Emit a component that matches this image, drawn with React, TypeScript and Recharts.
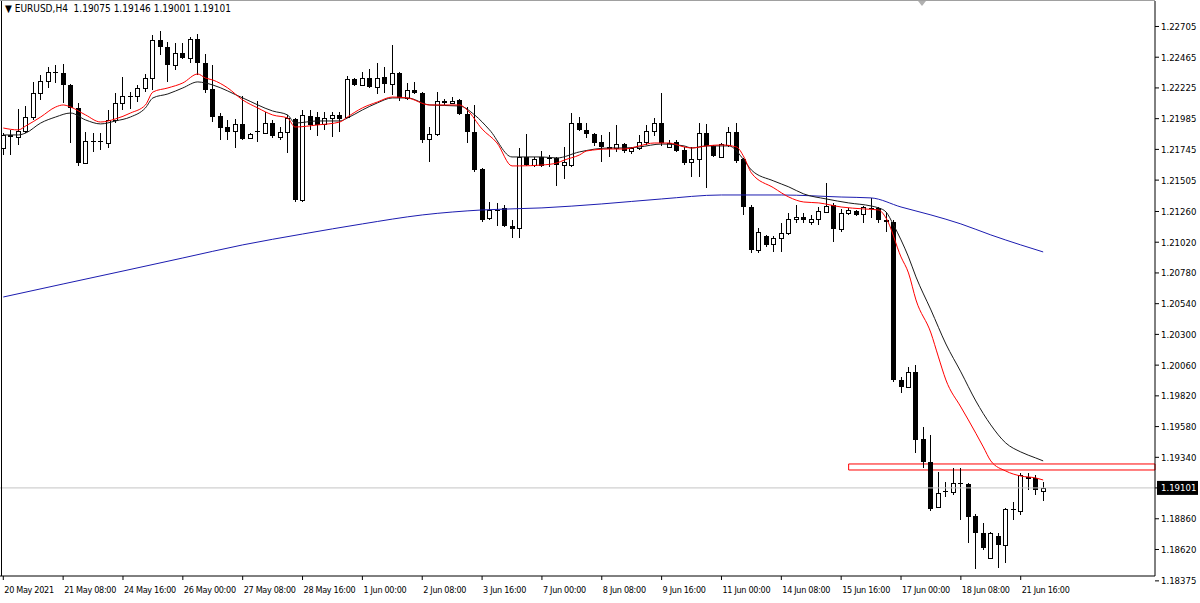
import React from 'react';
import { ComposedChart, Bar, Line, XAxis, YAxis, ReferenceLine, ReferenceArea } from 'recharts';

// EURUSD H4 candles (bar 0 = 20 May 2021 00:00)
const opens = [
  1.21756, 1.21858, 1.21842, 1.21889, 1.21998, 1.22186, 1.22279, 1.22350, 1.22342, 1.22248,
  1.22069, 1.21639, 1.21811, 1.21811, 1.21795, 1.21975, 1.22108, 1.22162, 1.22162, 1.22225,
  1.22303, 1.22600, 1.22545, 1.22404, 1.22498, 1.22459, 1.22607, 1.22420, 1.22217, 1.22006,
  1.21920, 1.21889, 1.21944, 1.21834, 1.21889, 1.21873, 1.21951, 1.21842, 1.21881, 1.21983,
  1.21350, 1.22006, 1.21998, 1.21944, 1.21990, 1.22014, 1.21998, 1.22295, 1.22248, 1.22303,
  1.22233, 1.22311, 1.22256, 1.22342, 1.22147, 1.22209, 1.22186, 1.21826, 1.21865, 1.22123,
  1.22108, 1.22131, 1.22022, 1.21881, 1.21592, 1.21209, 1.21272, 1.21288, 1.21147, 1.21131,
  1.21686, 1.21623, 1.21686, 1.21678, 1.21678, 1.21623, 1.21623, 1.21951, 1.21897, 1.21865,
  1.21803, 1.21756, 1.21756, 1.21787, 1.21733, 1.21756, 1.21803, 1.21889, 1.21951, 1.21764,
  1.21803, 1.21740, 1.21647, 1.21670, 1.21873, 1.21772, 1.21686, 1.21780, 1.21881, 1.21670,
  1.21295, 1.20959, 1.21069, 1.21006, 1.21053, 1.21092, 1.21202, 1.21217, 1.21178, 1.21202,
  1.21256, 1.21311, 1.21124, 1.21248, 1.21264, 1.21241, 1.21288, 1.21288, 1.21194, 1.21178,
  1.19944, 1.19890, 1.20007, 1.19483, 1.19304, 1.18952, 1.19077, 1.19069, 1.19140, 1.19132,
  1.18882, 1.18749, 1.18554, 1.18726, 1.18656, 1.18937, 1.18921, 1.19187, 1.19179, 1.19075,
];
const highs = [
  1.21873, 1.21897, 1.22061, 1.22084, 1.22272, 1.22326, 1.22389, 1.22404, 1.22412, 1.22256,
  1.22108, 1.21881, 1.21873, 1.21873, 1.22053, 1.22186, 1.22311, 1.22193, 1.22248, 1.22334,
  1.22639, 1.22670, 1.22584, 1.22576, 1.22576, 1.22623, 1.22646, 1.22490, 1.22404, 1.22029,
  1.21975, 1.21983, 1.22162, 1.21873, 1.22123, 1.22037, 1.21975, 1.21920, 1.22014, 1.21990,
  1.22053, 1.22053, 1.22037, 1.22037, 1.22037, 1.22037, 1.22318, 1.22303, 1.22350, 1.22373,
  1.22420, 1.22389, 1.22561, 1.22350, 1.22264, 1.22272, 1.22193, 1.21920, 1.22193, 1.22139,
  1.22154, 1.22139, 1.22076, 1.22092, 1.21600, 1.21334, 1.21327, 1.21311, 1.21194, 1.21756,
  1.21865, 1.21686, 1.21733, 1.21701, 1.21686, 1.21764, 1.22029, 1.21998, 1.21951, 1.21873,
  1.21858, 1.21881, 1.21936, 1.21795, 1.21764, 1.21858, 1.21936, 1.21990, 1.22186, 1.21819,
  1.21819, 1.21764, 1.21764, 1.21951, 1.21944, 1.21780, 1.21795, 1.21920, 1.21951, 1.21678,
  1.21311, 1.21131, 1.21077, 1.21069, 1.21170, 1.21248, 1.21311, 1.21248, 1.21233, 1.21295,
  1.21483, 1.21327, 1.21280, 1.21288, 1.21272, 1.21303, 1.21366, 1.21295, 1.21256, 1.21194,
  1.19968, 1.20046, 1.20061, 1.19577, 1.19515, 1.19226, 1.19148, 1.19257, 1.19257, 1.19140,
  1.18898, 1.18827, 1.18757, 1.18749, 1.18945, 1.18991, 1.19218, 1.19218, 1.19202, 1.19146,
];
const lows = [
  1.21701, 1.21701, 1.21780, 1.21873, 1.21975, 1.22131, 1.22225, 1.22264, 1.22108, 1.21795,
  1.21616, 1.21631, 1.21725, 1.21740, 1.21756, 1.21951, 1.22053, 1.22061, 1.22115, 1.22193,
  1.22209, 1.22482, 1.22272, 1.22365, 1.22451, 1.22420, 1.22326, 1.22186, 1.21959, 1.21819,
  1.21819, 1.21756, 1.21819, 1.21826, 1.21803, 1.21865, 1.21834, 1.21819, 1.21717, 1.21334,
  1.21334, 1.21897, 1.21850, 1.21897, 1.21842, 1.21881, 1.21990, 1.22240, 1.22240, 1.22225,
  1.22178, 1.22186, 1.22170, 1.22123, 1.22131, 1.22178, 1.21795, 1.21647, 1.21850, 1.22092,
  1.22100, 1.22014, 1.21795, 1.21569, 1.21178, 1.21194, 1.21147, 1.21139, 1.21053, 1.21053,
  1.21616, 1.21608, 1.21608, 1.21608, 1.21459, 1.21514, 1.21608, 1.21889, 1.21834, 1.21772,
  1.21647, 1.21686, 1.21725, 1.21717, 1.21709, 1.21740, 1.21780, 1.21850, 1.21772, 1.21756,
  1.21725, 1.21623, 1.21530, 1.21530, 1.21444, 1.21686, 1.21678, 1.21764, 1.21639, 1.21233,
  1.20936, 1.20936, 1.20983, 1.20944, 1.20944, 1.21077, 1.21170, 1.21170, 1.21155, 1.21155,
  1.21248, 1.21022, 1.21100, 1.21233, 1.21225, 1.21170, 1.21209, 1.21170, 1.21100, 1.19929,
  1.19843, 1.19882, 1.19374, 1.19257, 1.18921, 1.18945, 1.19030, 1.19046, 1.18851, 1.18671,
  1.18468, 1.18616, 1.18546, 1.18476, 1.18515, 1.18851, 1.18890, 1.19085, 1.19046, 1.19001,
];
const closes = [
  1.21858, 1.21842, 1.21889, 1.21998, 1.22186, 1.22279, 1.22350, 1.22342, 1.22248, 1.22069,
  1.21639, 1.21811, 1.21803, 1.21803, 1.21975, 1.22108, 1.22162, 1.22154, 1.22225, 1.22303,
  1.22600, 1.22545, 1.22404, 1.22498, 1.22459, 1.22607, 1.22420, 1.22209, 1.21998, 1.21912,
  1.21881, 1.21944, 1.21826, 1.21865, 1.21881, 1.21951, 1.21850, 1.21881, 1.21990, 1.21350,
  1.22014, 1.21936, 1.21936, 1.21990, 1.22014, 1.21983, 1.22295, 1.22248, 1.22303, 1.22233,
  1.22303, 1.22256, 1.22342, 1.22147, 1.22209, 1.22186, 1.21819, 1.21865, 1.22123, 1.22108,
  1.22123, 1.22022, 1.21881, 1.21584, 1.21194, 1.21272, 1.21264, 1.21147, 1.21124, 1.21686,
  1.21623, 1.21670, 1.21616, 1.21670, 1.21623, 1.21647, 1.21951, 1.21897, 1.21865, 1.21795,
  1.21764, 1.21764, 1.21787, 1.21733, 1.21756, 1.21803, 1.21889, 1.21951, 1.21795, 1.21795,
  1.21733, 1.21639, 1.21670, 1.21873, 1.21772, 1.21694, 1.21787, 1.21881, 1.21655, 1.21295,
  1.20959, 1.21100, 1.20999, 1.21053, 1.21092, 1.21202, 1.21217, 1.21194, 1.21202, 1.21264,
  1.21303, 1.21124, 1.21248, 1.21272, 1.21233, 1.21295, 1.21280, 1.21194, 1.21178, 1.19944,
  1.19890, 1.20007, 1.19476, 1.19304, 1.18937, 1.19062, 1.19069, 1.19140, 1.19132, 1.18874,
  1.18749, 1.18632, 1.18749, 1.18656, 1.18937, 1.18929, 1.19202, 1.19171, 1.19085, 1.19101,
];

// moving averages, [bar, price] read at points along each line
const redMa: [number, number][] = [
  [0, 1.21912], [2, 1.21897], [3, 1.21928], [5, 1.21998], [7, 1.22076], [8, 1.22092], [9, 1.22076],
  [11, 1.22014], [13, 1.21959], [15, 1.21983], [17, 1.22029], [19, 1.22092], [20, 1.22193],
  [22, 1.22225], [24, 1.22264], [26, 1.22334], [27, 1.22303], [28, 1.22287], [30, 1.22225],
  [32, 1.22131], [34, 1.22069], [36, 1.22014], [38, 1.21990], [39, 1.21920], [42, 1.21936],
  [45, 1.21959], [46, 1.21998], [48, 1.22069], [50, 1.22115], [52, 1.22154], [54, 1.22147],
  [57, 1.22092], [59, 1.22092], [61, 1.22092], [62, 1.22053], [64, 1.21904], [66, 1.21795],
  [68, 1.21616], [69, 1.21616], [72, 1.21623], [74, 1.21639], [75, 1.21662], [77, 1.21701],
  [78, 1.21733], [81, 1.21748], [83, 1.21748], [85, 1.21772], [87, 1.21795], [89, 1.21795],
  [91, 1.21764], [92, 1.21756], [94, 1.21772], [96, 1.21780], [98, 1.21764], [99, 1.21686],
  [100, 1.21561], [103, 1.21444], [105, 1.21373], [107, 1.21334], [109, 1.21327], [112, 1.21295],
  [115, 1.21280], [117, 1.21272], [118, 1.21209], [120, 1.20905], [121, 1.20780], [122, 1.20569],
  [124, 1.20311], [125, 1.20124], [126, 1.19944], [128, 1.19733], [129, 1.19632], [131, 1.19421],
  [132, 1.19312], [134, 1.19233], [136, 1.19194], [138, 1.19179], [139, 1.19163],
];
const blackMa: [number, number][] = [
  [0, 1.21858], [2, 1.21858], [3, 1.21873], [5, 1.21951], [7, 1.21998], [9, 1.22029], [11, 1.21975],
  [13, 1.21944], [15, 1.21967], [17, 1.21998], [19, 1.22069], [20, 1.22147], [22, 1.22178],
  [24, 1.22225], [26, 1.22272], [27, 1.22264], [28, 1.22248], [32, 1.22147], [36, 1.22045],
  [38, 1.22014], [39, 1.21951], [42, 1.21967], [45, 1.21967], [46, 1.21990], [48, 1.22053],
  [50, 1.22108], [52, 1.22147], [54, 1.22147], [57, 1.22092], [61, 1.22084], [63, 1.22014],
  [65, 1.21897], [68, 1.21686], [69, 1.21686], [72, 1.21686], [74, 1.21678], [77, 1.21725],
  [81, 1.21756], [83, 1.21756], [85, 1.21764], [88, 1.21787], [91, 1.21772], [92, 1.21756],
  [94, 1.21772], [97, 1.21772], [99, 1.21662], [100, 1.21584], [103, 1.21498], [105, 1.21452],
  [107, 1.21397], [110, 1.21358], [113, 1.21327], [116, 1.21303], [117, 1.21288], [118, 1.21256],
  [119, 1.21155], [120, 1.21038], [121, 1.20905], [122, 1.20749], [124, 1.20491], [126, 1.20225],
  [128, 1.20007], [130, 1.19780], [132, 1.19593], [134, 1.19452], [136, 1.19382], [138, 1.19335],
  [139, 1.19312],
];
const blueMa: [number, number][] = [
  [0, 1.20592], [8, 1.20694], [16, 1.20795], [24, 1.20897], [32, 1.20999], [40, 1.21084],
  [48, 1.21163], [56, 1.21233], [64, 1.21272], [72, 1.21288], [80, 1.21319], [88, 1.21358],
  [96, 1.21389], [104, 1.21389], [112, 1.21373], [116, 1.21366], [120, 1.21295], [124, 1.21233],
  [128, 1.21163], [132, 1.21077], [136, 1.20999], [139, 1.20944],
];

const timeLabels = [
  '20 May 2021', '21 May 08:00', '24 May 16:00', '26 May 00:00', '27 May 08:00', '28 May 16:00',
  '1 Jun 00:00', '2 Jun 08:00', '3 Jun 16:00', '7 Jun 00:00', '8 Jun 08:00', '9 Jun 16:00',
  '11 Jun 00:00', '14 Jun 08:00', '15 Jun 16:00', '17 Jun 00:00', '18 Jun 08:00', '21 Jun 16:00',
];
const barsPerLabel = 8;

const priceTicks = [
  1.22705, 1.22465, 1.22225, 1.21985, 1.21745, 1.21505, 1.2126, 1.2102, 1.2078, 1.2054,
  1.203, 1.2006, 1.1982, 1.1958, 1.1934, 1.19101, 1.1886, 1.1862, 1.18375,
];
const bidPrice = 1.19101;
const zone = { fromBar: 113, top: 1.19288, bottom: 1.19241 };

const redMap = new Map(redMa);
const blackMap = new Map(blackMa);
const blueMap = new Map(blueMa);

const data = opens.map((open, i) => ({
  i,
  open,
  high: highs[i],
  low: lows[i],
  close: closes[i],
  red: redMap.get(i) ?? null,
  black: blackMap.get(i) ?? null,
  blue: blueMap.get(i) ?? null,
}));

const FONT = "Tahoma, 'DejaVu Sans Condensed', 'Liberation Sans', sans-serif";

const Candle = (props: any) => {
  const { x, y, width, height, payload } = props;
  if (!payload || payload.open == null || !height || isNaN(y)) return null;
  const { open, close, high, low } = payload;
  const k = height / (high - low);
  const yOf = (v: number) => y + (high - v) * k;
  const cx = Math.floor(x + width / 2) + 0.5;
  const top = Math.round(yOf(Math.max(open, close)));
  const bot = Math.round(yOf(Math.min(open, close)));
  const up = close >= open;
  return (
    <g>
      <line x1={cx} x2={cx} y1={Math.round(y)} y2={Math.round(y + height)} stroke="#000" strokeWidth={1} />
      {up ? (
        <rect x={cx - 2} y={top + 0.5} width={4} height={Math.max(bot - top, 1)} fill="#fff" stroke="#000" strokeWidth={1} />
      ) : (
        <rect x={cx - 2.5} y={top} width={5} height={Math.max(bot - top, 1)} fill="#000" />
      )}
    </g>
  );
};

const TimeTick = (props: any) => {
  const { x, y, payload } = props;
  const label = timeLabels[Math.round(payload.value / barsPerLabel)];
  return (
    <text x={x + 1} y={y + 11} fontSize={9} letterSpacing={-0.3} fontFamily={FONT} fill="#000" textAnchor="start">
      {label}
    </text>
  );
};

const PriceTick = (props: any) => {
  const { x, y, payload } = props;
  const v = payload.value as number;
  const txt = v.toFixed(5);
  if (v === bidPrice) {
    return (
      <g>
        <rect x={x - 4} y={y - 7} width={41} height={14} fill="#000" />
        <text x={x} y={y} dy={3.5} fontSize={9.5} fontFamily={FONT} fill="#fff" textAnchor="start">{txt}</text>
      </g>
    );
  }
  return (
    <text x={x} y={y} dy={3.5} fontSize={9.5} fontFamily={FONT} fill="#000" textAnchor="start">{txt}</text>
  );
};

export default function App() {
  const xTicks = timeLabels.map((_, k) => k * barsPerLabel);
  return (
    <div style={{ position: 'absolute', left: 0, top: 0, width: 1200, height: 603, background: '#fff', overflow: 'hidden' }}>
      <ComposedChart width={1200} height={603} data={data} margin={{ top: 1, right: 0, bottom: 0, left: 0 }}>
        <XAxis
          dataKey="i"
          type="number"
          domain={[-0.44, 153.95]}
          allowDataOverflow
          ticks={xTicks}
          interval={0}
          height={27}
          tickSize={4}
          tickMargin={2}
          axisLine={{ stroke: '#000' }}
          tickLine={{ stroke: '#000' }}
          tick={<TimeTick />}
        />
        <YAxis
          orientation="right"
          type="number"
          domain={[1.18413, 1.22904]}
          allowDataOverflow
          ticks={priceTicks}
          interval={0}
          width={45}
          tickSize={4}
          tickMargin={2}
          axisLine={{ stroke: '#000' }}
          tickLine={{ stroke: '#000' }}
          tick={<PriceTick />}
        />
        <ReferenceLine y={bidPrice} stroke="#c4c4c4" strokeWidth={1} />
        <Bar
          dataKey={(d: any) => [d.low, d.high]}
          shape={<Candle />}
          isAnimationActive={false}
        />
        <Line dataKey="blue" type="monotone" stroke="#1c1cb0" strokeWidth={1} dot={false} connectNulls isAnimationActive={false} />
        <Line dataKey="black" type="monotone" stroke="#1a1a1a" strokeWidth={1} dot={false} connectNulls isAnimationActive={false} />
        <Line dataKey="red" type="monotone" stroke="#ff0000" strokeWidth={1} dot={false} connectNulls isAnimationActive={false} />
        <ReferenceArea
          x1={zone.fromBar}
          x2={153.95}
          y1={zone.bottom}
          y2={zone.top}
          fill="none"
          fillOpacity={0}
          stroke="#ff0000"
          strokeWidth={1}
          ifOverflow="visible"
        />
      </ComposedChart>
      <div style={{ position: 'absolute', left: 1, top: 0, width: 1, height: 576, background: '#000' }} />
      <div style={{ position: 'absolute', left: 0, top: 0, width: 1155, height: 1, background: '#a0a0a0' }} />
      <div
        style={{
          position: 'absolute', left: 5, top: 3, fontSize: 10, lineHeight: '12px',
          fontFamily: FONT, color: '#000', whiteSpace: 'pre',
        }}
      >
        {'\u25BC EURUSD,H4  1.19075 1.19146 1.19001 1.19101'}
      </div>
      <div
        style={{
          position: 'absolute', left: 918, top: 1, width: 0, height: 0,
          borderLeft: '4px solid transparent', borderRight: '4px solid transparent', borderTop: '5px solid #b0b0b0',
        }}
      />
    </div>
  );
}
